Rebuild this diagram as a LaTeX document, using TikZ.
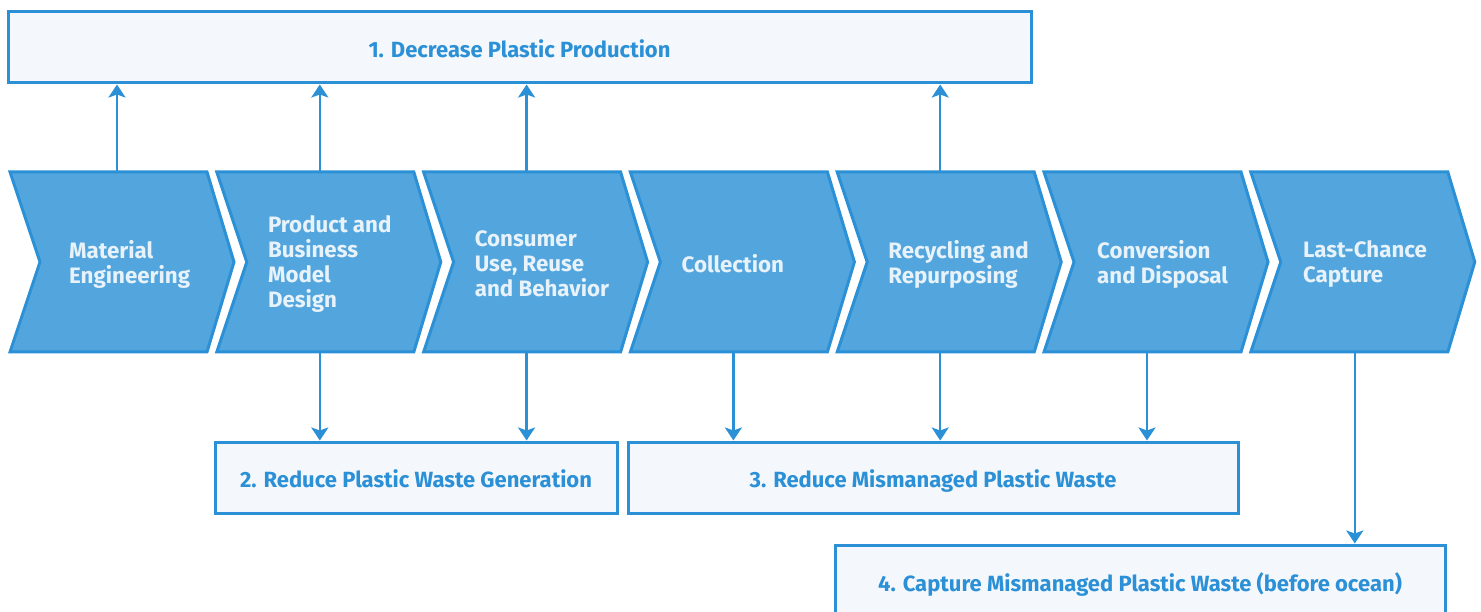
\documentclass[tikz,border=0pt]{standalone}
\usepackage{fontspec}
\setmainfont{Fira Sans}
\usetikzlibrary{arrows.meta,calc}

\definecolor{pblue}{HTML}{2B90D6}
\definecolor{pfill}{HTML}{53A6DD}
\definecolor{pbox}{HTML}{F4F8FC}
\definecolor{ptext}{HTML}{E8F2FA}

\tikzset{
  chev/.style={draw=pblue, fill=pfill, line width=3pt, line join=miter},
  goal/.style={rectangle, draw=pblue, fill=pbox, line width=3pt, inner sep=0pt,
    text height=24pt, text depth=4pt,
    text=pblue, font=\fontsize{22}{26}\selectfont\bfseries},
  stage/.style={anchor=west, align=left, inner sep=0pt, text=ptext,
    font=\fontsize{22.3}{25}\selectfont\bfseries},
  arr/.style={draw=pblue, line width=2.5pt,
    -{Stealth[length=13pt,width=17pt,inset=3pt]}},
}

\begin{document}
\begin{tikzpicture}[x=1pt,y=-1pt]
  \useasboundingbox (0,0) rectangle (1481,612);

  % the seven stages (top left corners)
  \coordinate (c1) at (10,172);
  \coordinate (c2) at (216.8,172);
  \coordinate (c3) at (423.6,172);
  \coordinate (c4) at (630.4,172);
  \coordinate (c5) at (837.2,172);
  \coordinate (c6) at (1044,172);
  \coordinate (c7) at (1250.8,172);

  \foreach \i in {1,...,7}{
    \draw[chev] (c\i) -- ++(197,0) -- ++(27,90) -- ++(-27,90)
      -- ++(-197,0) -- ++(30,-90) -- cycle;
  }

  \path ($(c1)+(107,0)$) coordinate (c1 top) ++(0,180) coordinate (c1 bot);
  \path ($(c2)+(103,0)$) coordinate (c2 top) ++(0,180) coordinate (c2 bot);
  \path ($(c3)+(103,0)$) coordinate (c3 top) ++(0,180) coordinate (c3 bot);
  \path ($(c4)+(103,0)$) coordinate (c4 top) ++(0,180) coordinate (c4 bot);
  \path ($(c5)+(103,0)$) coordinate (c5 top) ++(0,180) coordinate (c5 bot);
  \path ($(c6)+(103,0)$) coordinate (c6 top) ++(0,180) coordinate (c6 bot);
  \path ($(c7)+(104,0)$) coordinate (c7 top) ++(0,180) coordinate (c7 bot);

  \node[stage] (s1) at ($(c1)+(59,92)$) {Material\\Engineering};
  \node[stage] (s2) at ($(c2)+(51,92)$) {Product and\\Business\\Model\\Design};
  \node[stage] (s3) at ($(c3)+(51,92)$) {Consumer\\Use, Reuse\\and Behavior};
  \node[stage] (s4) at ($(c4)+(51,92)$) {Collection};
  \node[stage] (s5) at ($(c5)+(51,92)$) {Recycling and\\Repurposing};
  \node[stage] (s6) at ($(c6)+(53,92)$) {Conversion\\and Disposal};
  \node[stage] (s7) at ($(c7)+(52,92)$) {Last-Chance\\Capture};

  % the four goals
  \node[goal, minimum width=1023pt, minimum height=71pt] (g1) at (519.5,47.5)
    {1. Decrease Plastic Production};
  \node[goal, minimum width=402pt, minimum height=71pt] (g2) at (416,477.5)
    {2. Reduce Plastic Waste Generation};
  \node[goal, minimum width=610pt, minimum height=71pt] (g3) at (933,477.5)
    {3. Reduce Mismanaged Plastic Waste};
  \node[goal, minimum width=610pt, minimum height=72pt] (g4) at (1140,581)
    {4. Capture Mismanaged Plastic Waste (before ocean)};

  % stage -> goal
  \draw[arr] (c1 top) -- (c1 top |- g1.south);
  \draw[arr] (c2 top) -- (c2 top |- g1.south);
  \draw[arr] (c3 top) -- (c3 top |- g1.south);
  \draw[arr] (c5 top) -- (c5 top |- g1.south);

  \draw[arr] (c2 bot) -- (c2 bot |- g2.north);
  \draw[arr] (c3 bot) -- (c3 bot |- g2.north);
  \draw[arr] (c4 bot) -- (c4 bot |- g3.north);
  \draw[arr] (c5 bot) -- (c5 bot |- g3.north);
  \draw[arr] (c6 bot) -- (c6 bot |- g3.north);
  \draw[arr] (c7 bot) -- (c7 bot |- g4.north);
\end{tikzpicture}
\end{document}
